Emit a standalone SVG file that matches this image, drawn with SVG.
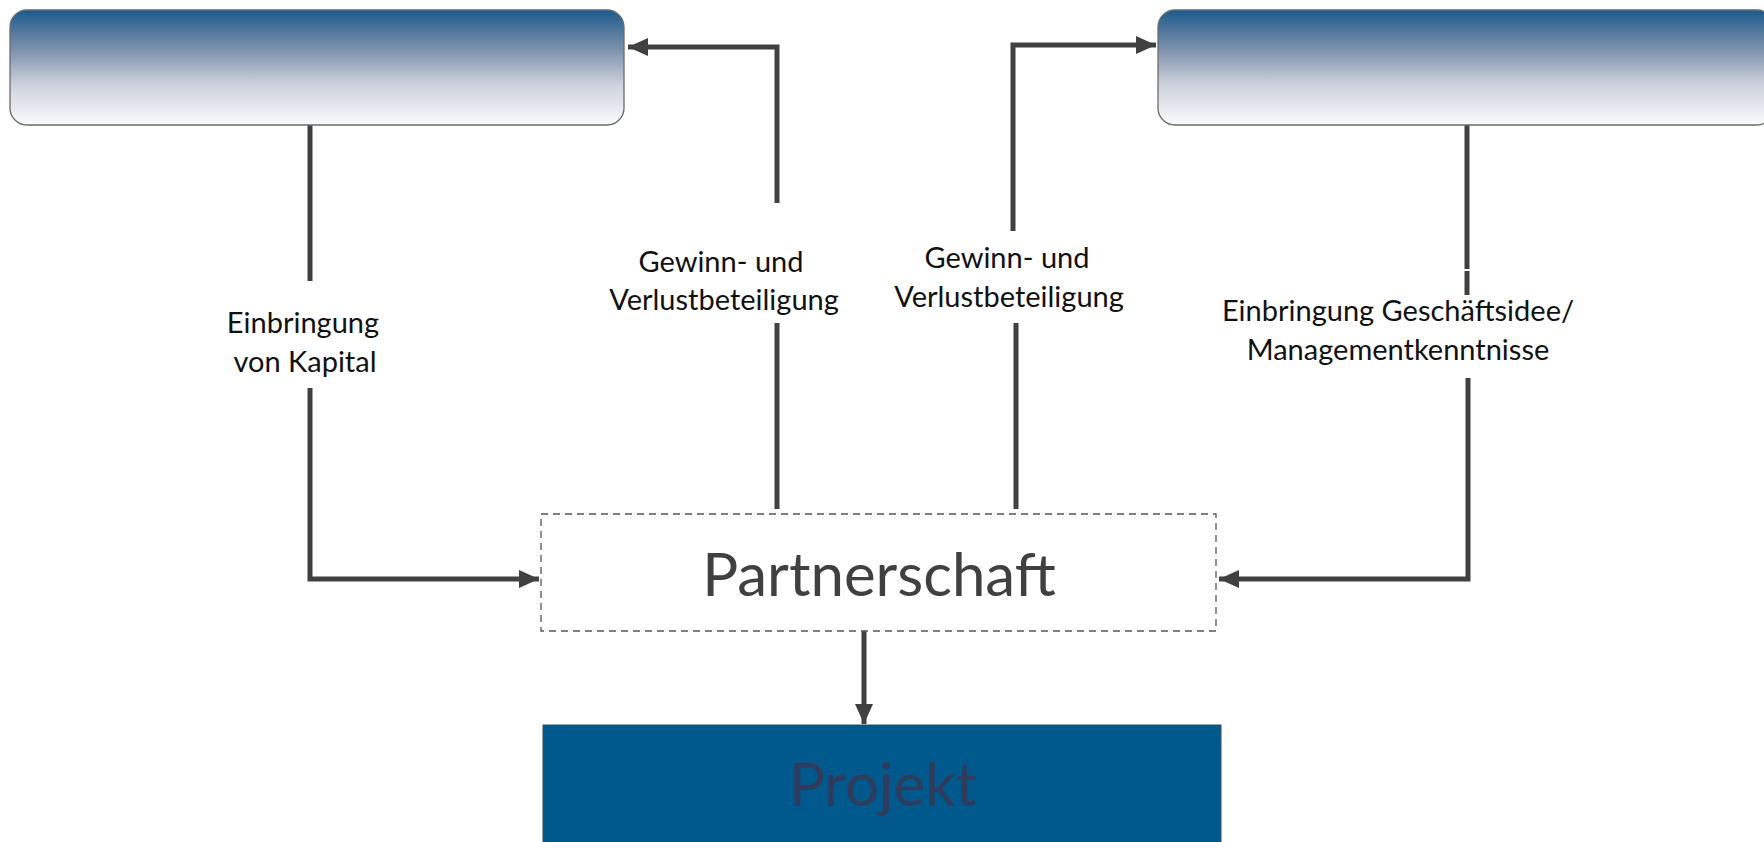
<svg xmlns="http://www.w3.org/2000/svg" width="1764" height="842" viewBox="0 0 1764 842">
  <defs>
    <linearGradient id="partnerFill" x1="0" y1="0" x2="0" y2="1">
      <stop offset="0" stop-color="#1b5a8c"/>
      <stop offset="0.35" stop-color="#7f92ad"/>
      <stop offset="0.65" stop-color="#cdd2dc"/>
      <stop offset="1" stop-color="#fbfbfc"/>
    </linearGradient>
    <marker id="arrow" markerUnits="userSpaceOnUse" markerWidth="22" markerHeight="22" viewBox="0 0 22 22" refX="20" refY="11" orient="auto">
      <path d="M0,2 L20,11 L0,20 Z" fill="#404040"/>
    </marker>
    <style>
      .top-box { fill: url(#partnerFill); stroke: #6b6b6b; stroke-width: 1.3; }
      .wire { fill: none; stroke: #404040; stroke-width: 5; stroke-linejoin: miter; }
      .label { font-family: Lato, "Liberation Sans", sans-serif; font-size: 29px; fill: #111111; text-anchor: middle; }
      .big { font-family: Lato, "Liberation Sans", sans-serif; font-size: 60px; text-anchor: middle; }
    </style>
  </defs>

  <rect width="1764" height="842" fill="#ffffff"/>

  <!-- connectors -->
  <g id="connectors">
    <!-- capital contribution: left partner to partnership -->
    <path class="wire" d="M310,125 V281"/>
    <path class="wire" d="M310,388 V579 H539" marker-end="url(#arrow)"/>
    <!-- profit/loss share back to left partner -->
    <path class="wire" d="M777,509 V323"/>
    <path class="wire" d="M777,203 V47 H628" marker-end="url(#arrow)"/>
    <!-- profit/loss share to right partner -->
    <path class="wire" d="M1016,509 V323"/>
    <path class="wire" d="M1013,231 V45 H1156" marker-end="url(#arrow)"/>
    <!-- business idea / know-how: right partner to partnership -->
    <path class="wire" d="M1467,125 V269"/>
    <path class="wire" d="M1467,271 V295"/>
    <path class="wire" d="M1468,378 V579 H1219" marker-end="url(#arrow)"/>
    <!-- partnership to project -->
    <path class="wire" d="M864,631 V724" marker-end="url(#arrow)"/>
  </g>

  <!-- connector labels -->
  <g id="labels">
    <text class="label" x="303" y="333">Einbringung</text>
    <text class="label" x="305" y="372">von Kapital</text>
    <text class="label" x="721" y="272">Gewinn- und</text>
    <text class="label" x="724" y="310">Verlustbeteiligung</text>
    <text class="label" x="1007" y="268">Gewinn- und</text>
    <text class="label" x="1009" y="307">Verlustbeteiligung</text>
    <text class="label" x="1398" y="321">Einbringung Geschäftsidee/</text>
    <text class="label" x="1398" y="360">Managementkenntnisse</text>
  </g>

  <!-- left partner -->
  <g id="partner-left">
    <rect class="top-box" x="10" y="10" width="614" height="115" rx="17" ry="17"/>
  </g>

  <!-- right partner -->
  <g id="partner-right">
    <rect class="top-box" x="1158" y="10" width="616" height="115" rx="17" ry="17"/>
  </g>

  <!-- partnership -->
  <g id="partnerschaft">
    <rect x="541" y="514" width="675" height="117" fill="#ffffff" stroke="#555555" stroke-width="1.3" stroke-dasharray="7 5"/>
    <text class="big" x="879" y="596" fill="#404040">Partnerschaft</text>
  </g>

  <!-- project -->
  <g id="projekt">
    <rect x="543" y="725" width="678" height="120" fill="#00598c" stroke="#3a4a5a" stroke-width="1"/>
    <text class="big" x="883" y="806" fill="#2f3b5c">Projekt</text>
  </g>
</svg>
